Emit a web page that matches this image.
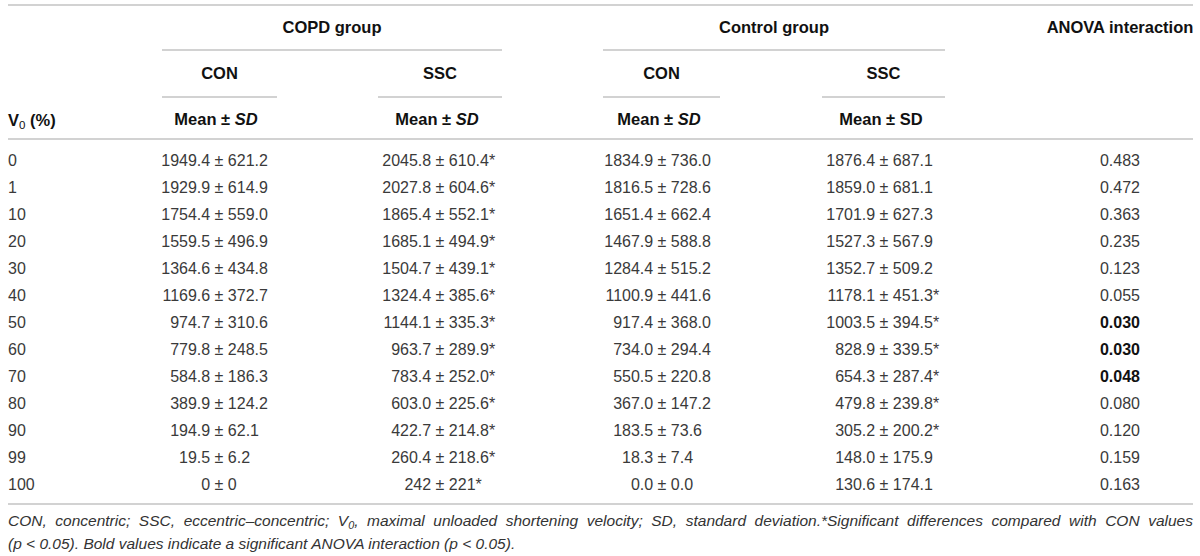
<!DOCTYPE html>
<html>
<head>
<meta charset="utf-8">
<title>V0 table</title>
<script src="https://cdn.jsdelivr.net/npm/chart.js@4/dist/chart.umd.min.js"></script>
<style>
  html, body { margin: 0; padding: 0; background: #fff; }
  #sheet { position: relative; width: 1200px; height: 556px; overflow: hidden;
           font-family: "Liberation Sans", Arial, Helvetica, sans-serif; }
  .rule { position: absolute; height: 2px; background: #d2d2d2; }
  .txt { position: absolute; height: 20px; line-height: 20px; white-space: nowrap; }
  .head { font-weight: bold; font-size: 16.5px; color: #111; text-align: center; }
  .body { font-size: 16px; color: #3a3a3a; }
  .mid { text-align: center; }
  .cell { display: flex; }
  .cell .l { flex: 1; text-align: right; }
  .cell .r { flex: 1; text-align: left; }
  .bold { font-weight: bold; color: #111; }
  sub { font-size: 70%; vertical-align: -3px; line-height: 0; }
  #foot { position: absolute; left: 8px; width: 1185px; top: 509px;
          font-size: 15.5px; line-height: 23px; font-style: italic; color: #333; }
  #foot .line1 { display: block; text-align: justify; text-align-last: justify; }
</style>
</head>
<body>
<div id="sheet"></div>
<script>
// table values, one array per column
const v0Levels = ['0', '1', '10', '20', '30', '40', '50', '60', '70', '80', '90', '99', '100'];

const copdConMean = ['1949.4', '1929.9', '1754.4', '1559.5', '1364.6', '1169.6', '974.7', '779.8', '584.8', '389.9', '194.9', '19.5', '0'];
const copdConSd   = ['621.2', '614.9', '559.0', '496.9', '434.8', '372.7', '310.6', '248.5', '186.3', '124.2', '62.1', '6.2', '0'];
const copdConSig  = [0, 0, 0, 0, 0, 0, 0, 0, 0, 0, 0, 0, 0];

const copdSscMean = ['2045.8', '2027.8', '1865.4', '1685.1', '1504.7', '1324.4', '1144.1', '963.7', '783.4', '603.0', '422.7', '260.4', '242'];
const copdSscSd   = ['610.4', '604.6', '552.1', '494.9', '439.1', '385.6', '335.3', '289.9', '252.0', '225.6', '214.8', '218.6', '221'];
const copdSscSig  = [1, 1, 1, 1, 1, 1, 1, 1, 1, 1, 1, 1, 1];

const ctrlConMean = ['1834.9', '1816.5', '1651.4', '1467.9', '1284.4', '1100.9', '917.4', '734.0', '550.5', '367.0', '183.5', '18.3', '0.0'];
const ctrlConSd   = ['736.0', '728.6', '662.4', '588.8', '515.2', '441.6', '368.0', '294.4', '220.8', '147.2', '73.6', '7.4', '0.0'];
const ctrlConSig  = [0, 0, 0, 0, 0, 0, 0, 0, 0, 0, 0, 0, 0];

const ctrlSscMean = ['1876.4', '1859.0', '1701.9', '1527.3', '1352.7', '1178.1', '1003.5', '828.9', '654.3', '479.8', '305.2', '148.0', '130.6'];
const ctrlSscSd   = ['687.1', '681.1', '627.3', '567.9', '509.2', '451.3', '394.5', '339.5', '287.4', '239.8', '200.2', '175.9', '174.1'];
const ctrlSscSig  = [0, 0, 0, 0, 0, 1, 1, 1, 1, 1, 1, 0, 0];

const anovaP = ['0.483', '0.472', '0.363', '0.235', '0.123', '0.055', '0.030', '0.030', '0.048', '0.080', '0.120', '0.159', '0.163'];

const groupLabels = ['COPD group', 'Control group'];
const subLabels = ['CON', 'SSC', 'CON', 'SSC'];
const footLine1 = 'CON, concentric; SSC, eccentric–concentric; V<sub>0</sub>, maximal unloaded shortening velocity; SD, standard deviation.*Significant differences compared with CON values';
const footLine2 = '(p &lt; 0.05). Bold values indicate a significant ANOVA interaction (p &lt; 0.05).';

// layout
const colCenter = [219, 440, 662, 884];
const subSpan = [[162, 277], [378, 502], [603, 720], [822, 945]];
const groupSpan = [[162, 502], [603, 945]];
const anovaX = 1120;
const rowTop = 161, rowStep = 27;

const sheet = document.getElementById('sheet');

function rule(x0, x1, y) {
    const d = document.createElement('div');
    d.className = 'rule';
    d.style.left = x0 + 'px';
    d.style.width = (x1 - x0) + 'px';
    d.style.top = (y - 1) + 'px';
    sheet.appendChild(d);
}

function text(html, cls, cx, cy, w, align) {
    const d = document.createElement('div');
    d.className = 'txt ' + cls;
    d.innerHTML = html;
    d.style.width = w + 'px';
    d.style.top = (cy - 10) + 'px';
    if (align === 'left') {
        d.style.left = cx + 'px';
        d.style.textAlign = 'left';
    } else {
        d.style.left = (cx - w / 2) + 'px';
    }
    sheet.appendChild(d);
    return d;
}

// header
rule(8, 1193, 5);
groupLabels.forEach((g, i) => {
    const [a, b] = groupSpan[i];
    text(g, 'head', (a + b) / 2, 27, b - a);
    rule(a, b, 50);
});
text('ANOVA interaction', 'head', anovaX, 27, 170);
subLabels.forEach((s, i) => {
    const [a, b] = subSpan[i];
    text(s, 'head', (a + b) / 2, 73, 140);
    rule(a, b, 97);
});
text('V<sub style="font-weight:normal">0</sub> (%)', 'head', 8, 120, 100, 'left');
const meanHeads = ['Mean ± <i>SD</i>', 'Mean ± <i>SD</i>', 'Mean ± <i>SD</i>', 'Mean ± SD'];
meanHeads.forEach((m, i) => text(m, 'head', colCenter[i] - 3, 119, 140));
rule(8, 1193, 139);

// body rows, each value split round the ± so the signs line up
const cols = [
    [copdConMean, copdConSd, copdConSig],
    [copdSscMean, copdSscSd, copdSscSig],
    [ctrlConMean, ctrlConSd, ctrlConSig],
    [ctrlSscMean, ctrlSscSd, ctrlSscSig]
];
v0Levels.forEach((lvl, r) => {
    const y = rowTop + r * rowStep;
    text(lvl, 'body', 8, y, 60, 'left');
    cols.forEach(([mean, sd, sig], c) => {
        const d = text('', 'body cell', colCenter[c], y, 200);
        d.innerHTML = '<span class="l">' + mean[r] + '</span><span>&nbsp;±&nbsp;</span><span class="r">' +
            sd[r] + (sig[r] ? '*' : '') + '</span>';
    });
    const p = anovaP[r];
    text(p, 'body mid' + (parseFloat(p) < 0.05 ? ' bold' : ''), anovaX, y, 80);
});
rule(8, 1193, 504);

// footnote
const f = document.createElement('div');
f.id = 'foot';
f.innerHTML = '<span class="line1">' + footLine1 + '</span>' + footLine2;
sheet.appendChild(f);
</script>
</body>
</html>
